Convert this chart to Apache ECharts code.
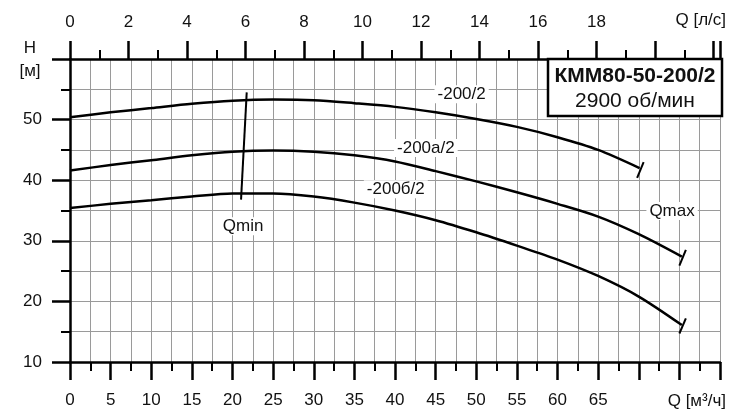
<!DOCTYPE html>
<html><head><meta charset="utf-8">
<script src="https://cdn.jsdelivr.net/npm/echarts@6/dist/echarts.min.js"></script>
<style>html,body{margin:0;padding:0;background:#fff}#c{width:733px;height:412px}</style>
</head><body><div id="c"></div>
<script>
// Tick labels
const bottomTickLabels = [0,5,10,15,20,25,30,35,40,45,50,55,60,65];
const topTickLabels = [0,2,4,6,8,10,12,14,16,18];
const leftTickLabels = [10,20,30,40,50];

// Curves: Q [m3/h], H [m]
const curve200 = [[0,50.4],[5,51.2],[10,51.9],[15,52.6],[20,53.1],[25,53.3],[30,53.2],[35,52.7],[40,52.1],[45,51.2],[50,50.1],[55,48.8],[60,47.1],[65,45.0],[70.1,42.0]];
const curve200a = [[0,41.6],[5,42.5],[10,43.3],[15,44.1],[20,44.7],[25,44.9],[30,44.7],[35,44.1],[40,43.1],[45,41.5],[50,39.8],[55,38.0],[60,36.1],[65,34.0],[70,31.1],[75.3,27.4]];
const curve200b = [[0,35.4],[5,36.1],[10,36.7],[15,37.3],[20,37.8],[25,37.8],[30,37.3],[35,36.3],[40,35.0],[45,33.4],[50,31.4],[55,29.2],[60,26.9],[65,24.2],[70,20.8],[75.3,16.1]];
const qminLine = [[21.75,54.5],[21.05,36.8]];
const qmaxTick200 = [[69.8,40.4],[70.6,43.0]];
const qmaxTick200a = [[75.0,25.9],[75.8,28.5]];
const qmaxTick200b = [[75.0,14.7],[75.8,17.2]];
const curveNames = ['-200/2','-200а/2','-200б/2'];

const FONT = 'Liberation Sans, Arial, sans-serif';
const TXT = '#111';
const GRID = '#9a9a9a';

const chart = echarts.init(document.getElementById('c'), null, {renderer:'canvas'});

function lineSeries(data, smooth, w){
  return {type:'line', data:data, xAxisIndex:0, yAxisIndex:0, smooth:smooth, showSymbol:false, symbol:'none',
    lineStyle:{color:'#000', width:w}, silent:true, animation:false, z:5};
}
function labelPoint(q,h,text){
  return {value:[q,h], name:text};
}

const option = {
  animation:false,
  backgroundColor:'#fff',
  grid:{left:70, top:59, right:13, bottom:50, containLabel:false, outerBoundsMode:'none'},
  xAxis:[
    {type:'value', position:'bottom', min:0, max:80, interval:5,
     axisLine:{show:true, onZero:false, lineStyle:{color:'#000', width:2.5}},
     axisTick:{show:true, inside:false, length:18, lineStyle:{color:'#000', width:2.5}},
     minorTick:{show:true, splitNumber:2, length:9, lineStyle:{color:'#000', width:2}},
     splitLine:{show:true, lineStyle:{color:GRID, width:1}},
     minorSplitLine:{show:true, lineStyle:{color:GRID, width:1}},
     axisLabel:{show:true, margin:30, fontSize:17, fontFamily:FONT, color:TXT,
       showMinLabel:true, showMaxLabel:true,
       formatter:function(v){return bottomTickLabels.indexOf(v)>=0 ? String(v) : '';}}
    },
    {type:'value', position:'top', min:0, max:80/3.6, interval:2,
     axisLine:{show:true, onZero:false, lineStyle:{color:'#000', width:2.5}},
     axisTick:{show:true, inside:false, length:18, lineStyle:{color:'#000', width:2.5}},
     minorTick:{show:true, splitNumber:2, length:9, lineStyle:{color:'#000', width:2}},
     splitLine:{show:false}, minorSplitLine:{show:false},
     axisLabel:{show:true, margin:28, fontSize:17, fontFamily:FONT, color:TXT,
       showMinLabel:true, showMaxLabel:false,
       formatter:function(v){return topTickLabels.indexOf(Math.round(v*1000)/1000)>=0 ? String(v) : '';}}
    }
  ],
  yAxis:[
    {type:'value', min:10, max:60, interval:10,
     axisLine:{show:true, onZero:false, lineStyle:{color:'#000', width:2.5}},
     axisTick:{show:true, inside:false, length:18, lineStyle:{color:'#000', width:2.5}},
     minorTick:{show:true, splitNumber:2, length:9, lineStyle:{color:'#000', width:2}},
     splitLine:{show:true, lineStyle:{color:GRID, width:1}},
     minorSplitLine:{show:true, lineStyle:{color:GRID, width:1}},
     axisLabel:{show:true, margin:28, fontSize:17, fontFamily:FONT, color:TXT,
       showMinLabel:true, showMaxLabel:true,
       formatter:function(v){return leftTickLabels.indexOf(v)>=0 ? String(v) : '';}}
    }
  ],
  series:[
    lineSeries(curve200, 0.3, 2.5),
    lineSeries(curve200a, 0.3, 2.5),
    lineSeries(curve200b, 0.3, 2.5),
    lineSeries(qminLine, false, 2),
    lineSeries(qmaxTick200, false, 2),
    lineSeries(qmaxTick200a, false, 2),
    lineSeries(qmaxTick200b, false, 2),
    {type:'scatter', xAxisIndex:0, yAxisIndex:0, symbolSize:1, silent:true, z:4,
     itemStyle:{color:'rgba(0,0,0,0)', opacity:1},
     label:{show:true, position:'inside', formatter:'{b}', fontSize:17, fontFamily:FONT, color:TXT, opacity:1,
       backgroundColor:'#fff', padding:[1,3,0,3]},
     data:[
       labelPoint(48.2,54.2,curveNames[0]),
       labelPoint(43.8,45.3,curveNames[1]),
       labelPoint(40.1,38.5,curveNames[2]),
       labelPoint(21.3,32.4,'Qmin'),
       labelPoint(74.1,34.9,'Qmax')
     ]}
  ],
  graphic:[
    {type:'text', x:30, y:48, style:{text:'H', fontSize:17, fontFamily:FONT, fill:TXT, align:'center', verticalAlign:'middle'}},
    {type:'text', x:30, y:71, style:{text:'[м]', fontSize:17, fontFamily:FONT, fill:TXT, align:'center', verticalAlign:'middle'}},
    {type:'text', x:726, y:20, style:{text:'Q [л/с]', fontSize:17, fontFamily:FONT, fill:TXT, align:'right', verticalAlign:'middle'}},
    {type:'text', x:726, y:401, style:{text:'Q [м³/ч]', fontSize:17, fontFamily:FONT, fill:TXT, align:'right', verticalAlign:'middle'}},
    {type:'rect', x:548, y:59, shape:{width:174, height:57}, style:{fill:'#fff', stroke:'#000', lineWidth:2.5}, z:10},
    {type:'text', x:635, y:76, z:11, style:{text:'КММ80-50-200/2', fontSize:21, fontWeight:'bold', fontFamily:FONT, fill:'#111', align:'center', verticalAlign:'middle'}},
    {type:'text', x:635, y:101, z:11, style:{text:'2900 об/мин', fontSize:21, fontFamily:FONT, fill:'#111', align:'center', verticalAlign:'middle'}}
  ]
};
chart.setOption(option);
</script>
</body></html>
